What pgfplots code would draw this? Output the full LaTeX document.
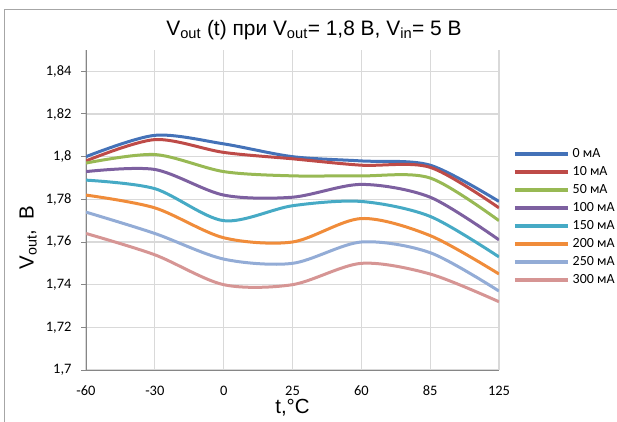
\documentclass[border=0pt]{standalone}
\usepackage{fontspec}
\setmainfont{Carlito}
\newfontfamily\arial{Liberation Sans}
\usepackage{pgfplots}
\pgfplotsset{compat=1.18}
\usepackage{pgfplotstable}

\definecolor{c0}{HTML}{4472B8}
\definecolor{c10}{HTML}{BE4B48}
\definecolor{c50}{HTML}{98B954}
\definecolor{c100}{HTML}{7D60A0}
\definecolor{c150}{HTML}{46AAC5}
\definecolor{c200}{HTML}{F08C3A}
\definecolor{c250}{HTML}{93ACD6}
\definecolor{c300}{HTML}{D69594}
\definecolor{gridc}{HTML}{D9D9D9}
\definecolor{axc}{HTML}{868686}

% x: -60 -30 0 25 60 85 125 as categories 0..6
\pgfplotstableread{
x  a0    a10   a50   a100  a150  a200  a250  a300
0  1.800 1.798 1.797 1.793 1.789 1.782 1.774 1.764
1  1.810 1.808 1.801 1.794 1.785 1.776 1.764 1.754
2  1.806 1.802 1.793 1.782 1.770 1.762 1.752 1.740
3  1.800 1.799 1.791 1.781 1.777 1.760 1.750 1.740
4  1.798 1.796 1.791 1.787 1.779 1.771 1.760 1.750
5  1.796 1.795 1.790 1.781 1.772 1.763 1.755 1.745
6  1.779 1.776 1.770 1.761 1.753 1.745 1.737 1.732
}\vout

\begin{document}
\begin{tikzpicture}[x=1bp,y=1bp]
\useasboundingbox (0,0) rectangle (617,421);
\draw[color=gray!70, line width=1bp] (4.5,-20) -- (4.5,411) -- (700,411);
\node[font=\arial\fontsize{21}{24}\selectfont] at (314,391)
  {V\textsubscript{out} (t) при V\textsubscript{out}= 1,8 В, V\textsubscript{in}= 5 В};
\begin{axis}[
    at={(86bp,51bp)}, anchor=south west,
    scale only axis, width=413bp, height=320bp,
    xmin=0, xmax=6, ymin=1.7, ymax=1.85,
    xtick={0,...,6},
    xticklabels={-60,-30,0,25,60,85,125},
    ytick={1.7,1.72,...,1.841},
    axis x line*=bottom, axis y line*=left,
    axis line style={draw=axc, line width=1bp, -},
    grid=major,
    major grid style={draw=gridc, line width=1.3bp},
    xtick style={draw=none},
    ytick style={draw=axc, line width=1bp},
    tick align=outside, major tick length=5bp,
    ticklabel style={font=\fontsize{14.5}{17}\selectfont},
    /pgf/number format/assume math mode=true,
    yticklabel style={/pgf/number format/fixed, /pgf/number format/precision=2, /pgf/number format/use comma, xshift=-6bp},
    xticklabel style={yshift=-11bp, inner sep=0pt, text height=9bp, text depth=0pt},
    xlabel={\arial t,°C},
    ylabel={\arial V\textsubscript{out},\hspace{10bp}В},
    label style={font=\arial\fontsize{20.5}{24}\selectfont},
    xlabel style={at={(axis description cs:0.5,-0.118)}, anchor=center, inner sep=0pt},
    ylabel style={at={(axis description cs:-0.14,0.413)}, anchor=center},
    legend style={at={(axis description cs:1.034,0.697)}, anchor=north west,
      draw=none, fill=none, font=\fontsize{14}{17}\selectfont,
      row sep=4bp, inner sep=0pt,
      nodes={inner sep=0pt, text height=10.5bp, text depth=3.5bp, anchor=west}},
    legend cell align=left,
    legend image code/.code={\draw[#1, line width=3.5bp] (0bp,0bp) -- (53bp,0bp);},
    every axis plot/.append style={line width=3bp, smooth, tension=0.5, no marks},
  ]
\addplot[c0]   table[x=x, y=a0]   {\vout};
\addplot[c10]  table[x=x, y=a10]  {\vout};
\addplot[c50]  table[x=x, y=a50]  {\vout};
\addplot[c100] table[x=x, y=a100] {\vout};
\addplot[c150] table[x=x, y=a150] {\vout};
\addplot[c200] table[x=x, y=a200] {\vout};
\addplot[c250] table[x=x, y=a250] {\vout};
\addplot[c300] table[x=x, y=a300] {\vout};
\legend{\hspace{3bp}0 мА,\hspace{3bp}10 мА,\hspace{3bp}50 мА,\hspace{3bp}100 мА,\hspace{3bp}150 мА,\hspace{3bp}200 мА,\hspace{3bp}250 мА,\hspace{3bp}300 мА}
\end{axis}
\end{tikzpicture}
\end{document}
